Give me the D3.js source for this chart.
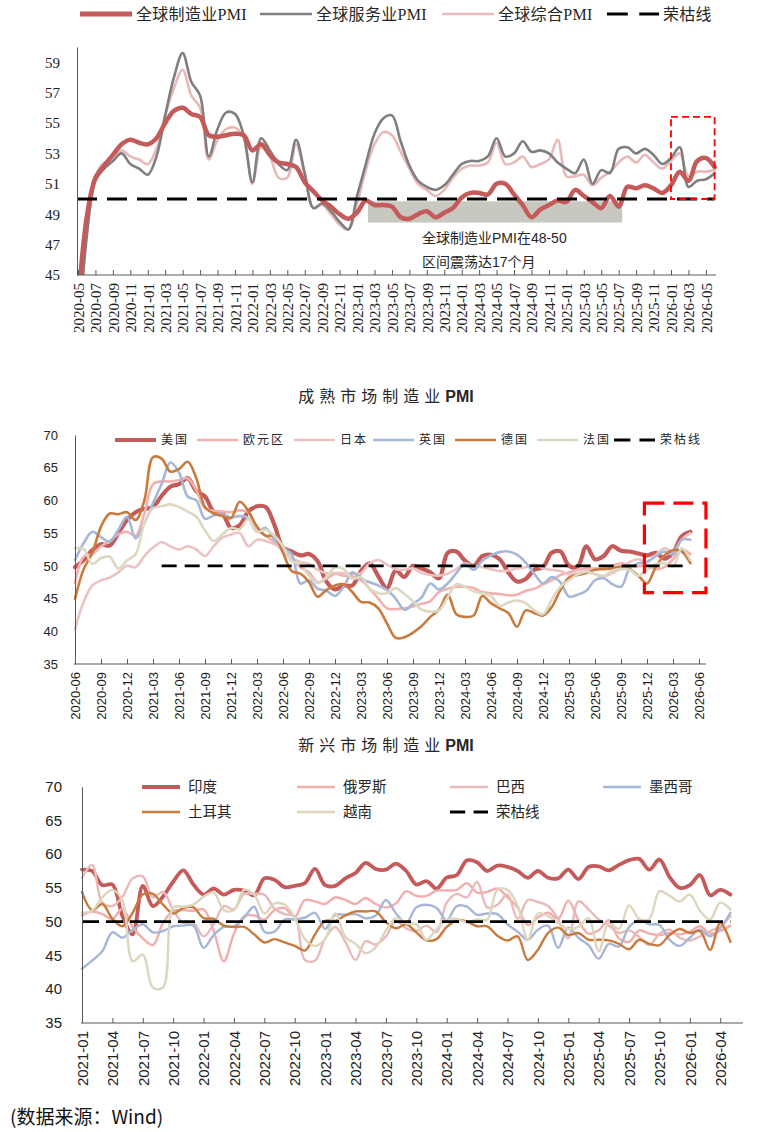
<!DOCTYPE html>
<html>
<head>
<meta charset="utf-8">
<script src="https://cdn.jsdelivr.net/npm/d3@7"></script>
<style>
body { margin: 0; background: #fff; }
svg { display: block; }
</style>
</head>
<body>
<svg id="chart" width="770" height="1132"></svg>
<script>
//////////////////////////////////////////////////////////////////////////////
// Data

// month categories (x axes)
function monthRange(y, m, n) {
    var out = [];
    for (var k = 0; k < n; k++) {
        out.push(y + "-" + (m < 10 ? "0" + m : m));
        m++;
        if (m > 12) { m = 1; y++; }
    }
    return out;
}
var topMonths = monthRange(2020, 5, 74);   // 2020-05 .. 2026-06
var midMonths = monthRange(2020, 6, 73);   // 2020-06 .. 2026-06
var botMonths = monthRange(2021, 1, 66);   // 2021-01 .. 2026-06

// panel 1 : global PMI
var globalMfg = [43.0,48.8,51.4,52.2,52.9,53.6,53.9,53.7,53.6,54.0,
    55.0,55.8,56.0,55.6,55.4,54.2,54.1,54.2,54.3,54.2,
    53.2,53.6,52.9,52.4,52.3,52.1,51.1,50.5,49.9,49.5,
    49.0,48.7,49.1,49.9,49.6,49.6,49.5,48.8,48.7,49.0,
    49.2,48.8,49.1,49.4,50.1,50.4,50.4,50.3,51.0,51.0,
    50.3,49.6,48.8,49.3,49.6,49.9,49.8,50.6,50.2,49.8,
    49.4,50.2,49.5,50.8,50.7,50.9,50.7,50.4,50.9,51.8,
    51.2,52.5,52.7,52.1];
var globalSvc = [40.0,47.5,51.2,52.0,52.5,53.0,52.3,52.0,51.6,52.8,
    55.5,58.0,59.6,57.7,56.8,52.8,54.6,55.7,55.6,54.2,
    51.1,54.0,53.2,52.3,51.9,53.9,51.7,49.4,49.7,49.2,
    48.5,48.0,50.2,52.3,54.3,55.3,55.5,53.8,52.2,51.2,
    50.8,50.6,50.9,51.6,52.3,52.5,52.5,52.8,54.0,52.8,
    53.0,53.8,53.1,53.2,53.0,52.4,52.0,51.7,52.6,51.0,
    51.9,51.7,53.3,53.4,53.0,53.3,52.9,52.3,52.7,53.4,
    50.8,51.2,51.3,51.7];
var globalComp = [41.0,48.0,51.5,52.4,52.5,53.2,52.8,52.6,52.3,53.3,
    55.5,57.3,58.5,56.8,56.0,52.6,53.9,54.6,54.7,54.0,
    51.0,53.4,52.8,51.4,51.4,53.6,51.6,49.4,49.6,49.0,
    48.3,48.0,49.7,51.9,53.6,54.4,54.2,53.1,52.0,51.0,
    50.6,50.2,50.6,51.4,52.0,52.2,52.2,52.4,53.7,52.3,
    52.4,52.8,52.1,52.3,52.6,53.9,51.5,51.5,51.6,50.9,
    51.4,51.8,52.4,52.8,52.4,52.9,52.4,52.0,52.5,53.0,
    51.5,51.8,51.8,51.9];
var topTicks = [45, 47, 49, 51, 53, 55, 57, 59];
var shadeMonths = ["2023-02", "2025-07"];
var shadeValues = [48.45, 49.85];
var noteLines = ["全球制造业PMI在48-50", "区间震荡达17个月"];
var topBoxMonths = ["2026-01", "2026-06"];
var topBoxValues = [50, 55.4];

// panel 2 : developed markets (2020-06 .. 2026-05)
var usPMI = [49.8,50.9,52.4,53.3,53.1,55.0,57.0,58.2,58.7,59.0,
    60.7,62.1,62.5,63.4,61.4,60.6,58.3,58.0,55.8,56.2,
    58.3,59.1,59.0,56.3,52.8,52.2,51.6,51.8,50.7,47.6,
    46.4,47.0,47.0,49.2,50.4,48.4,46.6,49.3,48.3,50.0,
    49.6,49.0,48.1,52.0,52.2,50.8,50.0,51.5,51.7,51.0,
    49.0,47.6,48.0,49.4,49.8,52.0,52.2,50.0,49.9,53.0,
    51.0,51.5,53.0,52.3,52.2,51.9,51.6,52.0,51.1,52.0,
    54.5,55.2];
var ezPMI = [47.4,51.4,51.8,53.0,53.8,54.8,55.2,54.6,58.0,62.5,
    62.9,62.9,63.1,63.4,61.5,58.8,58.4,58.3,58.2,58.5,
    58.2,55.5,54.6,53.6,52.2,51.0,49.8,49.0,47.5,48.0,
    48.8,48.5,48.4,47.8,46.5,45.0,43.5,43.4,43.5,43.8,
    44.2,44.6,46.0,46.5,46.8,46.8,46.6,46.0,45.8,45.7,
    45.5,45.6,46.2,46.5,47.2,47.8,48.6,49.0,49.4,49.6,
    49.6,49.6,50.0,50.4,50.0,49.9,50.1,49.5,49.8,51.0,
    52.5,51.8];
var jpPMI = [40.3,44.5,47.0,47.8,48.2,49.0,50.0,49.8,51.5,52.8,
    53.6,53.0,52.5,53.0,52.5,51.5,53.0,54.3,54.8,55.0,
    53.0,54.0,53.8,53.3,52.6,51.2,50.6,50.3,49.4,48.9,
    48.9,48.9,48.8,48.9,50.4,50.9,50.2,49.5,49.4,49.6,
    48.9,48.6,48.5,48.8,49.5,50.4,50.0,49.8,49.5,49.2,
    49.3,49.6,49.8,50.2,49.6,49.4,49.2,48.7,48.9,49.2,
    48.7,48.4,48.9,49.6,50.6,51.0,50.6,51.6,52.7,52.2,
    54.0,55.0];
var ukPMI = [50.9,53.5,55.2,54.4,53.7,55.5,57.5,54.2,56.5,59.6,
    62.5,65.8,64.3,60.6,60.0,57.2,57.7,57.9,57.4,57.6,
    57.3,55.2,55.8,54.0,52.7,51.8,47.3,47.8,46.5,46.2,
    45.4,46.8,49.0,48.0,47.5,47.0,46.3,45.0,43.3,44.2,
    45.2,47.3,46.4,47.3,48.9,50.3,49.4,50.8,51.6,52.1,
    52.2,51.7,50.5,48.8,47.3,48.3,47.5,45.3,45.6,46.2,
    47.8,48.1,47.2,46.8,49.6,50.4,50.6,51.5,52.2,51.7,
    54.0,54.0];
var dePMI = [45.0,49.5,52.0,56.0,58.0,57.9,58.2,57.0,60.0,66.6,
    66.4,64.4,64.8,65.9,63.4,59.0,58.0,57.6,57.3,59.8,
    58.4,56.0,54.6,54.6,52.0,49.2,48.8,47.5,45.3,46.3,
    47.0,47.2,46.0,44.5,44.4,43.5,41.2,39.0,39.1,39.8,
    40.8,42.2,43.3,45.6,42.6,42.2,42.4,45.4,44.3,43.5,
    42.8,40.7,43.2,42.8,42.4,43.7,46.3,48.2,48.6,48.9,
    49.4,49.5,49.6,49.9,49.5,48.5,47.3,49.8,51.6,52.4,
    52.2,50.4];
var frPMI = [52.7,52.6,50.3,51.2,51.4,49.6,50.8,51.8,56.5,58.8,
    59.1,59.4,59.0,58.3,57.5,55.4,53.8,54.8,55.8,55.6,
    57.2,55.2,55.5,54.6,53.0,50.7,50.3,48.5,47.4,48.3,
    49.8,49.5,48.0,48.3,46.5,45.8,45.8,46.6,45.7,44.6,
    43.3,43.0,43.2,45.2,47.2,46.8,46.1,45.8,45.4,43.9,
    44.4,44.7,44.3,43.2,42.6,44.8,46.8,47.8,48.7,49.1,
    48.8,48.5,49.3,49.5,49.4,48.5,49.4,50.2,50.4,49.9,
    52.7,50.9];
var midTicks = [35, 40, 45, 50, 55, 60, 65, 70];
var midLineMonths = ["2021-04", "2026-05"];
var midBoxIdx = [65.7, 72.8];
var midBoxValues = [45.9, 59.6];

// panel 3 : emerging markets (2021-01 .. 2026-05)
var inPMI = [57.7,57.5,55.4,55.5,50.8,48.1,55.3,52.3,53.7,55.9,57.6,55.5,
    54.0,54.9,54.0,54.7,54.6,53.9,56.4,56.2,55.1,55.3,55.7,57.8,
    55.4,55.3,56.4,57.2,58.7,57.8,57.7,58.6,57.5,55.5,56.0,54.9,
    56.5,56.9,59.1,58.8,57.5,58.3,58.1,57.5,56.5,57.5,56.5,56.4,
    57.7,56.3,58.1,58.2,57.6,58.4,59.1,59.3,57.7,59.2,56.6,55.0,
    55.4,56.9,53.9,54.7,54.0];
var ruPMI = [50.9,51.5,51.1,50.4,51.9,49.2,47.5,46.5,49.8,51.6,51.7,51.6,
    51.8,48.6,44.1,48.2,50.8,50.9,50.3,51.7,52.0,50.7,53.2,53.0,
    52.6,53.6,53.2,52.6,53.5,52.6,52.1,52.7,54.5,53.8,53.8,54.6,
    54.6,54.7,55.7,54.3,54.4,54.9,53.6,52.1,49.5,50.6,51.3,50.4,
    53.1,50.2,48.2,48.7,50.2,47.5,47.0,48.7,48.2,48.0,48.3,48.1,
    48.5,49.3,48.2,48.6,49.4];
var brPMI = [56.5,58.4,52.8,52.3,53.7,56.4,56.7,53.6,54.4,51.7,49.8,49.8,
    47.8,49.6,52.3,51.8,54.1,54.1,54.0,51.9,51.1,50.8,44.3,44.2,
    47.5,49.2,47.0,44.3,47.1,46.6,47.8,50.1,49.0,48.6,49.4,48.4,
    52.8,54.1,53.6,55.9,52.1,52.5,54.0,50.4,53.2,52.9,52.3,50.4,
    47.5,53.0,51.8,50.3,49.4,48.3,48.7,47.7,46.5,48.2,48.8,47.6,
    47.2,47.8,48.6,49.3,50.8];
var mxPMI = [43.0,44.2,45.6,48.4,47.6,48.8,49.6,48.4,48.6,49.3,49.4,49.4,
    46.1,48.0,49.2,49.3,50.6,52.2,48.5,48.5,50.3,50.3,50.6,51.3,
    48.9,51.0,51.0,51.1,50.5,50.9,53.2,51.2,49.8,52.1,52.5,52.0,
    50.2,52.3,52.2,51.0,51.2,51.1,49.6,48.5,47.3,48.8,49.4,46.1,
    49.1,47.6,46.5,44.5,46.7,46.3,49.2,50.2,49.6,49.5,47.3,46.4,
    47.6,48.8,47.8,49.0,51.3];
var trPMI = [54.4,51.7,52.6,50.4,49.3,51.3,54.0,54.1,52.5,51.2,52.0,52.1,
    50.5,50.4,49.4,49.2,49.2,48.1,46.9,47.4,46.9,46.4,45.7,48.1,
    50.1,50.1,50.9,51.5,51.5,51.5,49.9,49.0,49.6,48.4,47.2,47.4,
    49.2,50.2,50.0,49.3,49.3,47.9,47.2,47.8,44.3,45.8,48.3,49.1,
    48.0,48.3,47.3,47.3,47.2,46.7,45.9,47.3,46.7,46.5,48.0,48.9,
    48.3,48.6,45.8,49.8,47.0];
var vnPMI = [51.3,51.6,53.6,54.7,53.1,44.1,45.1,40.2,40.2,52.1,52.2,52.5,
    53.7,54.3,51.7,51.7,54.7,54.0,51.2,52.7,52.5,50.6,47.4,46.4,
    47.4,51.2,47.7,46.7,45.3,46.2,48.7,50.5,49.7,49.6,47.3,48.9,
    50.3,50.4,49.9,50.3,50.3,54.7,54.7,52.4,47.3,51.2,50.8,49.8,
    48.9,49.2,50.5,45.6,49.8,48.9,52.4,50.4,50.4,54.5,53.8,53.0,
    54.0,51.6,50.3,52.8,51.8];
var botTicks = [35, 40, 45, 50, 55, 60, 65, 70];
var botLineMonths = ["2021-01", "2026-05"];

var sourceText = "(数据来源：Wind)";

//////////////////////////////////////////////////////////////////////////////
// Helpers

var svg = d3.select("#chart");
var CJK = "'Noto Sans CJK SC', sans-serif";
var SERIF = "'Liberation Serif', 'Noto Sans CJK SC', serif";
var SANS = "'Liberation Sans', 'Noto Sans CJK SC', sans-serif";
var smooth = d3.curveCatmullRom.alpha(0.5);

function xAt(scale, i) {
    return scale.range()[0] + i * scale.step();
}

function drawSeries(g, xs, ys, months, values, color, width) {
    var line = d3.line()
        .x(function(d, i) { return xs(months[i]); })
        .y(function(d) { return ys(d); })
        .curve(smooth);
    g.append("path")
        .attr("d", line(values))
        .attr("fill", "none")
        .attr("stroke", color)
        .attr("stroke-width", width)
        .attr("stroke-linejoin", "round")
        .attr("stroke-linecap", "round");
}

function drawYAxis(x0, ys, ticks, pad, font, size) {
    var g = svg.append("g")
        .attr("transform", "translate(" + x0 + ",0)")
        .call(d3.axisLeft(ys).tickValues(ticks).tickSize(0).tickSizeOuter(0).tickPadding(pad));
    g.select(".domain").attr("stroke", "#595959");
    g.selectAll("text").attr("font-family", font).attr("font-size", size).attr("fill", "#222");
    return g;
}

function drawXAxis(y0, xs, ticks, font, size, xEnd) {
    var g = svg.append("g")
        .attr("transform", "translate(0," + y0 + ")")
        .call(d3.axisBottom(xs).tickValues(ticks).tickSize(-5).tickSizeOuter(0));
    g.select(".domain").attr("stroke", "#595959")
        .attr("d", "M" + (xs.range()[0] - 1) + ",0H" + xEnd);
    g.selectAll(".tick line").attr("stroke", "#595959");
    g.selectAll("text")
        .attr("font-family", font).attr("font-size", size).attr("fill", "#222")
        .attr("transform", "rotate(-90)")
        .attr("x", -8).attr("y", 0).attr("dy", "0.35em")
        .style("text-anchor", "end");
    return g;
}

function legendItem(x, y, len, item, font, size, gap, spacing) {
    var g = svg.append("g");
    if (item.dash) {
        g.append("line").attr("x1", x).attr("x2", x + len * 0.4).attr("y1", y).attr("y2", y)
            .attr("stroke", item.color).attr("stroke-width", item.width);
        g.append("line").attr("x1", x + len * 0.62).attr("x2", x + len).attr("y1", y).attr("y2", y)
            .attr("stroke", item.color).attr("stroke-width", item.width);
    } else {
        g.append("line").attr("x1", x).attr("x2", x + len).attr("y1", y).attr("y2", y)
            .attr("stroke", item.color).attr("stroke-width", item.width);
    }
    g.append("text").attr("x", x + len + gap).attr("y", y).attr("dy", "0.35em")
        .attr("font-family", font).attr("font-size", size).attr("fill", "#262626")
        .attr("letter-spacing", spacing || 0)
        .text(item.label);
}

function panelTitle(cx, y, cjk, latin) {
    var t = svg.append("text").attr("x", cx).attr("y", y)
        .attr("text-anchor", "middle")
        .attr("fill", "#262626");
    t.append("tspan").attr("font-family", CJK).attr("font-size", 16)
        .attr("letter-spacing", 5).text(cjk);
    t.append("tspan").attr("font-family", SANS).attr("font-size", 16)
        .attr("font-weight", "bold").text(latin);
}

//////////////////////////////////////////////////////////////////////////////
// Panel 1 : global PMI

var xTop = d3.scalePoint().domain(topMonths).range([78, 714.6]);
var yTop = d3.scaleLinear().domain([45, 60]).range([275, 47]);

svg.append("clipPath").attr("id", "clipTop")
    .append("rect").attr("x", 77).attr("y", 40).attr("width", 645).attr("height", 235);

var gTop = svg.append("g").attr("clip-path", "url(#clipTop)");

gTop.append("rect")
    .attr("x", xTop(shadeMonths[0]) + xTop.step() * 0.25)
    .attr("width", xTop(shadeMonths[1]) + xTop.step() * 0.4 - xTop(shadeMonths[0]) - xTop.step() * 0.25)
    .attr("y", yTop(shadeValues[1]))
    .attr("height", yTop(shadeValues[0]) - yTop(shadeValues[1]))
    .attr("fill", "#c8c8c0");

drawSeries(gTop, xTop, yTop, topMonths, globalComp, "#e8b9b9", 2.6);
drawSeries(gTop, xTop, yTop, topMonths, globalSvc, "#7f7f7f", 2.6);
drawSeries(gTop, xTop, yTop, topMonths, globalMfg, "#c55a5a", 4.5);

gTop.append("line")
    .attr("x1", xTop.range()[0] - 1).attr("x2", xTop.range()[1])
    .attr("y1", yTop(50)).attr("y2", yTop(50))
    .attr("stroke", "#000").attr("stroke-width", 2.8).attr("stroke-dasharray", "20,10");

svg.append("rect")
    .attr("x", xTop(topBoxMonths[0]))
    .attr("width", xTop(topBoxMonths[1]) - xTop(topBoxMonths[0]))
    .attr("y", yTop(topBoxValues[1]))
    .attr("height", yTop(topBoxValues[0]) - yTop(topBoxValues[1]))
    .attr("fill", "none").attr("stroke", "#ff0000").attr("stroke-width", 1.8)
    .attr("stroke-dasharray", "7,4");

noteLines.forEach(function(t, k) {
    svg.append("text").attr("x", 422).attr("y", 243 + k * 24)
        .attr("font-family", SANS).attr("font-size", 14).attr("fill", "#262626").text(t);
});

drawYAxis(77, yTop, topTicks, 17, SERIF, 15);
drawXAxis(275, xTop, topMonths.filter(function(d, i) { return i % 2 === 0; }), SERIF, 15, 716);

var topLegend = [
    { label: "全球制造业PMI", color: "#c55a5a", width: 5 },
    { label: "全球服务业PMI", color: "#7f7f7f", width: 2.6 },
    { label: "全球综合PMI", color: "#e8b9b9", width: 2.6 },
    { label: "荣枯线", color: "#000", width: 3, dash: true }
];
var topLegendX = [80, 260, 442, 607];
topLegend.forEach(function(d, k) {
    legendItem(topLegendX[k], 14, 52, d, SERIF, 16, 4, 0.3);
});

//////////////////////////////////////////////////////////////////////////////
// Panel 2 : developed markets

panelTitle(386, 402, "成熟市场制造业", "PMI");

var xMid = d3.scalePoint().domain(midMonths).range([75, 699]);
var yMid = d3.scaleLinear().domain([35, 70]).range([664, 435]);
var gMid = svg.append("g");

var midSeries = [
    { label: "美国", values: usPMI, color: "#c55a5a", width: 4.2 },
    { label: "欧元区", values: ezPMI, color: "#f3b0b0", width: 2.6 },
    { label: "日本", values: jpPMI, color: "#ebc3c3", width: 2.6 },
    { label: "英国", values: ukPMI, color: "#a6b7d8", width: 2.6 },
    { label: "德国", values: dePMI, color: "#c97b3d", width: 2.6 },
    { label: "法国", values: frPMI, color: "#ddd8c2", width: 2.6 }
];
midSeries.forEach(function(s) {
    drawSeries(gMid, xMid, yMid, midMonths, s.values, s.color, s.width);
});

gMid.append("line")
    .attr("x1", xMid(midLineMonths[0])).attr("x2", xMid(midLineMonths[1]))
    .attr("y1", yMid(50)).attr("y2", yMid(50))
    .attr("stroke", "#000").attr("stroke-width", 2.6).attr("stroke-dasharray", "15,8");

svg.append("rect")
    .attr("x", xAt(xMid, midBoxIdx[0]))
    .attr("width", xAt(xMid, midBoxIdx[1]) - xAt(xMid, midBoxIdx[0]))
    .attr("y", yMid(midBoxValues[1]))
    .attr("height", yMid(midBoxValues[0]) - yMid(midBoxValues[1]))
    .attr("fill", "none").attr("stroke", "#ff0000").attr("stroke-width", 3.2)
    .attr("stroke-dasharray", "20,9");

drawYAxis(75, yMid, midTicks, 17, SANS, 13);
drawXAxis(664, xMid, midMonths.filter(function(d, i) { return i % 3 === 0; }), SANS, 13, 706);

var midLegendX = [115, 197, 294, 373, 455, 537, 614];
midSeries.concat([{ label: "荣枯线", color: "#000", width: 3, dash: true }])
    .forEach(function(d, k) {
        legendItem(midLegendX[k], 440, 41, d, CJK, 12, 5, 2);
    });

//////////////////////////////////////////////////////////////////////////////
// Panel 3 : emerging markets

panelTitle(386, 751, "新兴市场制造业", "PMI");

var xBot = d3.scalePoint().domain(botMonths).range([82, 740.5]);
var yBot = d3.scaleLinear().domain([35, 70]).range([1022.7, 786.7]);
var gBot = svg.append("g");

var botSeries = [
    { label: "印度", values: inPMI, color: "#c55a5a", width: 3.8 },
    { label: "俄罗斯", values: ruPMI, color: "#f3adad", width: 2.4 },
    { label: "巴西", values: brPMI, color: "#e9baba", width: 2.4 },
    { label: "墨西哥", values: mxPMI, color: "#a6b6d8", width: 2.4 },
    { label: "土耳其", values: trPMI, color: "#c97b3d", width: 2.4 },
    { label: "越南", values: vnPMI, color: "#dcd6bf", width: 2.4 }
];
botSeries.forEach(function(s) {
    drawSeries(gBot, xBot, yBot, botMonths, s.values, s.color, s.width);
});

gBot.append("line")
    .attr("x1", xBot(botLineMonths[0])).attr("x2", xBot(botLineMonths[1]))
    .attr("y1", yBot(50)).attr("y2", yBot(50))
    .attr("stroke", "#000").attr("stroke-width", 2.8).attr("stroke-dasharray", "17,7");

drawYAxis(82, yBot, botTicks, 20, SANS, 15);
drawXAxis(1023, xBot, botMonths.filter(function(d, i) { return i % 3 === 0; }), SANS, 15, 743);

var botLegend = botSeries.concat([{ label: "荣枯线", color: "#000", width: 3, dash: true }]);
var botLegendPos = [[142, 787], [297, 787], [450, 787], [603, 787], [142, 812], [297, 812], [450, 812]];
botLegend.forEach(function(d, k) {
    legendItem(botLegendPos[k][0], botLegendPos[k][1], 38, d, CJK, 14.5, 8, 0);
});

svg.append("text").attr("x", 10).attr("y", 1124)
    .attr("font-family", CJK).attr("font-size", 19).attr("fill", "#111")
    .text(sourceText);
</script>
</body>
</html>
